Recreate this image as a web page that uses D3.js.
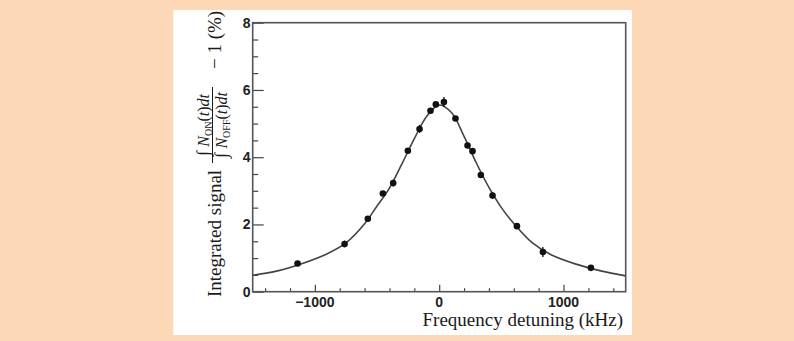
<!DOCTYPE html>
<html lang="en">
<head>
<meta charset="utf-8">
<title>Integrated signal vs frequency detuning</title>
<script src="https://cdn.jsdelivr.net/npm/d3@7/dist/d3.min.js"></script>
<style>
  html, body { margin: 0; padding: 0; background: #fcd8b6; }
  svg { display: block; }
</style>
</head>
<body>
<div id="chart"></div>
<script>
// measured points (kHz, %), with half-length of error bars
var detuning = [-1139, -761, -574, -453, -370, -252, -158, -70, -27, 38, 131, 228, 268, 335, 429, 625, 834, 1220];
var signal   = [0.84, 1.42, 2.17, 2.92, 3.23, 4.19, 4.84, 5.38, 5.57, 5.64, 5.15, 4.35, 4.18, 3.47, 2.86, 1.95, 1.18, 0.71];
var errors   = [0.04, 0.10, 0.05, 0.07, 0.10, 0.05, 0.12, 0.05, 0.04, 0.15, 0.05, 0.07, 0.05, 0.06, 0.10, 0.05, 0.15, 0.04];

// fitted curve
var fitX = [-1500, -1300, -1100, -900, -750, -600, -500, -400, -300, -200, -100, 0, 100, 200, 300, 400, 500, 600, 750, 900, 1100, 1300, 1500];
var fitY = [0.49, 0.62, 0.84, 1.13, 1.45, 2.02, 2.55, 3.08, 3.80, 4.55, 5.22, 5.55, 5.32, 4.62, 3.82, 3.10, 2.50, 2.03, 1.45, 1.10, 0.82, 0.62, 0.47];

var xTicks = [-1000, 0, 1000];
var yTicks = [0, 2, 4, 6, 8];

var W = 794, H = 341;
// plot frame (note: "top" is reserved by window, so prefixed names)
var fL = 252.7, fR = 625.7, fT = 22.7, fB = 291.7;

var svg = d3.select("#chart").append("svg")
    .attr("width", W).attr("height", H);

svg.append("rect").attr("width", W).attr("height", H).attr("fill", "#fcd8b6");
svg.append("rect")
    .attr("x", 173.3).attr("y", 10)
    .attr("width", 632 - 173.3).attr("height", 335 - 10)
    .attr("fill", "#fff");

var x = d3.scaleLinear().domain([-1500, 1500]).range([fL, fR]);
var y = d3.scaleLinear().domain([0, 8]).range([fB, fT]);

// x axis: major ticks every 1000, minor every 200, pointing inward
var xAxis = svg.append("g").attr("transform", "translate(0," + fB + ")");
xAxis.call(d3.axisBottom(x).tickValues(d3.range(-1400, 1401, 200)).tickSize(0).tickFormat(""));
xAxis.select(".domain").remove();
xAxis.selectAll(".tick line")
    .attr("y2", function(d) { return d % 1000 === 0 ? -7 : -3.5; })
    .attr("stroke", "#444").attr("stroke-width", 1.2);
svg.append("g").selectAll("text")
    .data(xTicks).enter().append("text")
    .attr("x", function(d) { return x(d); })
    .attr("y", 307)
    .attr("text-anchor", "middle")
    .attr("font-family", "Liberation Sans, Arial, sans-serif")
    .attr("font-weight", "bold")
    .attr("font-size", "14px")
    .attr("fill", "#222")
    .text(function(d) { return d < 0 ? "\u2212" + Math.abs(d) : d; });

// y axis: major every 2, minor every 0.5
var yAxis = svg.append("g").attr("transform", "translate(" + fL + ",0)");
yAxis.call(d3.axisLeft(y).tickValues(d3.range(0, 8.01, 0.5)).tickSize(0).tickFormat(""));
yAxis.select(".domain").remove();
yAxis.selectAll(".tick line")
    .attr("x2", function(d) { return d % 2 === 0 ? 11 : 5.5; })
    .attr("stroke", "#444").attr("stroke-width", 1.2);
svg.append("g").selectAll("text")
    .data(yTicks).enter().append("text")
    .attr("x", 250.5)
    .attr("y", function(d) { return y(d); })
    .attr("dy", "0.36em")
    .attr("text-anchor", "end")
    .attr("font-family", "Liberation Sans, Arial, sans-serif")
    .attr("font-weight", "bold")
    .attr("font-size", "14px")
    .attr("fill", "#222")
    .text(function(d) { return d; });

// frame
svg.append("rect")
    .attr("x", fL).attr("y", fT)
    .attr("width", fR - fL).attr("height", fB - fT)
    .attr("fill", "none").attr("stroke", "#555").attr("stroke-width", 1.6);

// fit curve
var fit = fitX.map(function(d, i) { return [d, fitY[i]]; });
var line = d3.line()
    .x(function(d) { return x(d[0]); })
    .y(function(d) { return y(d[1]); })
    .curve(d3.curveCatmullRom.alpha(0.5));
svg.append("path")
    .datum(fit)
    .attr("d", line)
    .attr("fill", "none")
    .attr("stroke", "#444")
    .attr("stroke-width", 1.6);

// data points with error bars
var pts = detuning.map(function(d, i) { return { x: d, y: signal[i], e: errors[i] }; });
svg.append("g").selectAll("line")
    .data(pts).enter().append("line")
    .attr("x1", function(d) { return x(d.x); })
    .attr("x2", function(d) { return x(d.x); })
    .attr("y1", function(d) { return y(d.y - d.e); })
    .attr("y2", function(d) { return y(d.y + d.e); })
    .attr("stroke", "#111").attr("stroke-width", 1.3);
svg.append("g").selectAll("circle")
    .data(pts).enter().append("circle")
    .attr("cx", function(d) { return x(d.x); })
    .attr("cy", function(d) { return y(d.y); })
    .attr("r", 3.3)
    .attr("fill", "#111");

// axis titles
svg.append("text")
    .attr("x", 623).attr("y", 326)
    .attr("text-anchor", "end")
    .attr("font-family", "Liberation Serif, Times New Roman, serif")
    .attr("font-size", "19px")
    .attr("fill", "#1a1a1a")
    .text("Frequency detuning (kHz)");

var yt = svg.append("g")
    .attr("transform", "translate(221,297) rotate(-90)")
    .attr("font-family", "Liberation Serif, Times New Roman, serif")
    .attr("fill", "#1a1a1a");
yt.append("text").attr("x", 0).attr("y", 0).attr("font-size", "19px").text("Integrated signal");

function frac(sub, base) {
  var t = yt.append("text").attr("x", 172).attr("y", base)
      .attr("text-anchor", "middle").attr("font-size", "16px");
  t.append("tspan").attr("font-size", "18px").text("\u222B ");
  t.append("tspan").attr("font-style", "italic").text("N");
  t.append("tspan").attr("font-size", "10px").attr("dy", 3).text(sub);
  t.append("tspan").attr("dy", -3).text("(");
  t.append("tspan").attr("font-style", "italic").text("t");
  t.append("tspan").text(")");
  t.append("tspan").attr("font-style", "italic").text("dt");
}
frac("ON", -12);
frac("OFF", 6);
yt.append("line")
    .attr("x1", 134).attr("x2", 210)
    .attr("y1", -8.5).attr("y2", -8.5)
    .attr("stroke", "#1a1a1a").attr("stroke-width", 1);
yt.append("text").attr("x", 228).attr("y", 0).attr("font-size", "19px").text("\u2212 1 (%)");
</script>
</body>
</html>
